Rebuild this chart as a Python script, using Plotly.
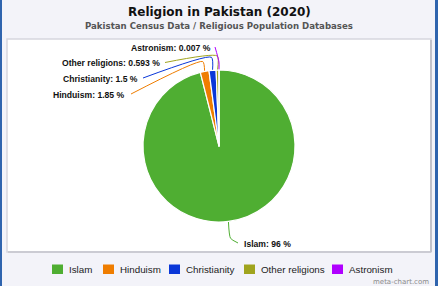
import math
import plotly.graph_objects as go

# ---- data ----
categories = ["Islam", "Hinduism", "Christianity", "Other religions", "Astronism"]
values = [96, 1.85, 1.5, 0.593, 0.007]
colors = ["#4fae32", "#ef7d00", "#0a37d8", "#a0a41e", "#b000ff"]
title_text = "Religion in Pakistan (2020)"
subtitle_text = "Pakistan Census Data / Religious Population Databases"

# ---- layout constants (pixels) ----
W, H = 438, 286
CX, CY, R = 219, 146, 76

label_layout = {
    "Islam":           dict(x=242, y=244, anchor="left",  sx=238, sy=243, knee=17),
    "Hinduism":        dict(x=127, y=95,  anchor="right", sx=131, sy=94,  knee=10),
    "Christianity":    dict(x=140, y=79,  anchor="right", sx=143, sy=78,  knee=13),
    "Other religions": dict(x=162, y=63,  anchor="right", sx=165, sy=62.5, knee=14),
    "Astronism":       dict(x=213, y=47.5, anchor="right", sx=215, sy=47, knee=8),
}
legend_swatch_x = [52, 103, 169, 244, 332]

fig = go.Figure()

fig.add_trace(go.Pie(
    labels=categories, values=values, sort=False,
    direction="clockwise", rotation=0,
    marker=dict(colors=colors, line=dict(color="white", width=1.2)),
    textinfo="none", showlegend=False,
    domain=dict(x=[(CX - R) / W, (CX + R) / W],
                y=[(H - CY - R) / H, (H - CY + R) / H]),
))

total = sum(values)
cum = 0.0
annotations = []
for cat, v, col in zip(categories, values, colors):
    mid = (cum + v / 2) / total * 2 * math.pi
    cum += v
    L = label_layout[cat]
    ax_, ay_ = CX + R * math.sin(mid), CY - R * math.cos(mid)
    kr = R + L["knee"]
    kx, ky = CX + kr * math.sin(mid), CY - kr * math.cos(mid)
    fig.add_trace(go.Scatter(
        x=[L["sx"], kx, ax_], y=[L["sy"], ky, ay_], mode="lines",
        line=dict(color=col, width=1, shape="spline", smoothing=0.6),
        hoverinfo="skip", showlegend=False,
    ))
    annotations.append(dict(
        x=L["x"], y=L["y"], xref="x", yref="y", showarrow=False,
        xanchor=L["anchor"], yanchor="middle",
        text=f"<b>{cat}: {v:g} %</b>",
        font=dict(family="Liberation Sans", size=8.6, color="#111"),
    ))

# title / subtitle
annotations.append(dict(x=W / 2, y=11.5, xref="x", yref="y", showarrow=False,
                        text=f"<b>{title_text}</b>", xanchor="center", yanchor="middle",
                        font=dict(family="DejaVu Sans", size=12, color="#111")))
annotations.append(dict(x=W / 2, y=25.5, xref="x", yref="y", showarrow=False,
                        text=f"<b>{subtitle_text}</b>", xanchor="center", yanchor="middle",
                        font=dict(family="DejaVu Sans", size=8.6, color="#555")))
# watermark
annotations.append(dict(x=431, y=281.5, xref="x", yref="y", showarrow=False,
                        text="meta-chart.com", xanchor="right", yanchor="middle",
                        font=dict(family="DejaVu Sans", size=7, color="#8a8a8a")))

shapes = [
    dict(type="rect", xref="x", yref="y", x0=7, y0=39, x1=431, y1=252,
         fillcolor="white", line=dict(color="#d6d6de", width=1.5), layer="below"),
    dict(type="line", xref="x", yref="y", x0=431, y0=40, x1=431, y1=252,
         line=dict(color="#b8b8c0", width=1.5), layer="below"),
    dict(type="line", xref="x", yref="y", x0=8, y0=252, x1=431, y1=252,
         line=dict(color="#c4c4cc", width=1.5), layer="below"),
    dict(type="rect", xref="x", yref="y", x0=0, y0=0, x1=2, y1=H,
         fillcolor="#2f64ae", line=dict(width=0), layer="below"),
    dict(type="rect", xref="x", yref="y", x0=435, y0=0, x1=438, y1=H,
         fillcolor="#2f64ae", line=dict(width=0), layer="below"),
]

# custom legend
for cat, col, sx in zip(categories, colors, legend_swatch_x):
    shapes.append(dict(type="rect", xref="x", yref="y", x0=sx, y0=264.5, x1=sx + 11, y1=274,
                       fillcolor=col, line=dict(width=0)))
    annotations.append(dict(x=sx + 15, y=269.5, xref="x", yref="y", showarrow=False,
                            text=cat, xanchor="left", yanchor="middle",
                            font=dict(family="Liberation Sans", size=9.8, color="#222")))

fig.update_layout(
    width=W, height=H, margin=dict(l=0, r=0, t=0, b=0),
    paper_bgcolor="#f3f3f9", plot_bgcolor="rgba(0,0,0,0)",
    xaxis=dict(range=[0, W], visible=False, fixedrange=True, domain=[0, 1]),
    yaxis=dict(range=[H, 0], visible=False, fixedrange=True, domain=[0, 1]),
    shapes=shapes, annotations=annotations, showlegend=False,
)

fig.write_html("out.html")
